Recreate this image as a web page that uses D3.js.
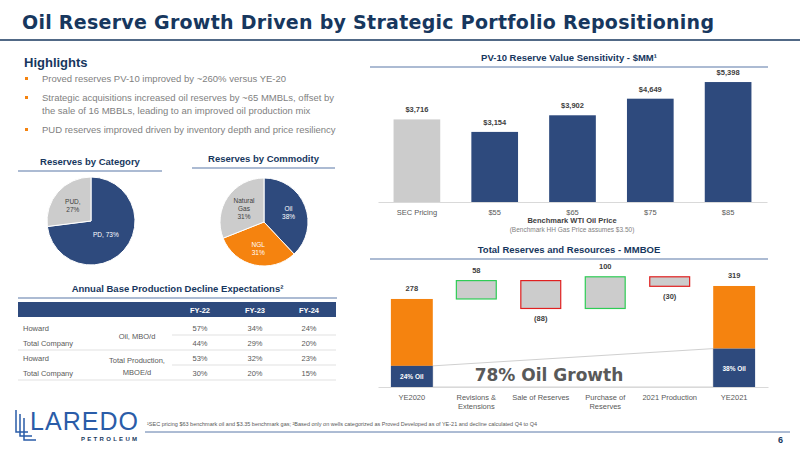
<!DOCTYPE html>
<html><head><meta charset="utf-8">
<script src="https://cdn.jsdelivr.net/npm/d3@7"></script>
<style>body{margin:0;background:#fff}svg{font-family:Arial,"Liberation Sans",sans-serif}</style>
</head><body><svg id="c" width="800" height="450"></svg>
<script>
const NAVY="#2e4a7d", ORANGE="#f5830f", GREY="#cccccc", TITLE="#17375e";
const pvCategories=["SEC Pricing","$55","$65","$75","$85"];
const pvValues=[3716,3154,3902,4649,5398];
const catLabels=["PD, 73%","PUD, 27%"];
const catValues=[73,27];
const comLabels=["Oil 38%","NGL 31%","Natural Gas 31%"];
const comValues=[38,31,31];
const wfCategories=["YE2020","Revisions & Extensions","Sale of Reserves","Purchase of Reserves","2021 Production","YE2021"];
const wfValues=[278,58,-88,100,-30,319];
const oilShare=[24,38];
const tableHeader=["FY-22","FY-23","FY-24"];
const tableRows=[["Howard","57%","34%","24%"],["Total Company","44%","29%","20%"],["Howard","53%","32%","23%"],["Total Company","30%","20%","15%"]];
const tableGroups=["Oil, MBO/d","Total Production,|MBOE/d"];
const highlights=["Proved reserves PV-10 improved by ~260% versus YE-20","Strategic acquisitions increased oil reserves by ~65 MMBLs, offset by|the sale of 16 MBBLs, leading to an improved oil production mix","PUD reserves improved driven by inventory depth and price resiliency"];

const svg=d3.select("#c");
function txt(x,y,t,o={}){const e=svg.append("text").attr("x",x).attr("y",y).text(t)
 .attr("font-size",o.s||8).attr("fill",o.c||"#595959").attr("text-anchor",o.a||"start").attr("font-weight",o.w||"normal");return e;}
function line(x1,y1,x2,y2,c,w){svg.append("line").attr("x1",x1).attr("y1",y1).attr("x2",x2).attr("y2",y2).attr("stroke",c).attr("stroke-width",w);}
txt(22,29,"Oil Reserve Growth Driven by Strategic Portfolio Repositioning",{s:19,c:TITLE,w:"bold"}).attr("font-family","DejaVu Sans").attr("textLength",692);
line(0,40,800,40,TITLE,1.5);
txt(24,67,"Highlights",{s:13,c:TITLE,w:"bold"});
let hy=82;
highlights.forEach(h=>{svg.append("rect").attr("x",25).attr("y",hy-5).attr("width",3).attr("height",3).attr("fill",ORANGE);
 h.split("|").forEach((l,i)=>txt(42,hy+i*13,l,{s:9.5,c:"#7f7f7f"}));hy+=h.split("|").length*13+6;});
function sect(x1,x2,y,t){txt((x1+x2)/2,y,t,{s:9.5,c:TITLE,w:"bold",a:"middle"});line(x1,y+6,x2,y+6,"#5a78a8",1.2);}
sect(18,162,165,"Reserves by Category");sect(192,335,162,"Reserves by Commodity");
sect(18,337,292,"Annual Base Production Decline Expectations²");
sect(370,768,61,"PV-10 Reserve Value Sensitivity - $MM¹");
sect(370,768,253,"Total Reserves and Resources - MMBOE");
function pie(cx,cy,r,vals,cols,labels,lpos,lcol){
 const arcs=d3.pie().sort(null)(vals);const g=svg.append("g").attr("transform",`translate(${cx},${cy})`);
 g.selectAll("path").data(arcs).join("path").attr("d",d3.arc().innerRadius(0).outerRadius(r)).attr("fill",(d,i)=>cols[i]).attr("stroke","#fff").attr("stroke-width",1);
 arcs.forEach((a,i)=>{const c=d3.arc().innerRadius(r*lpos[i]).outerRadius(r*lpos[i]).centroid(a);
  const parts=labels[i].split(" ");const ls=labels[i].startsWith("PD")?[labels[i]]:parts;
  ls.forEach((l,j)=>g.append("text").attr("x",c[0]).attr("y",c[1]+(j-(ls.length-1)/2)*8+3).attr("text-anchor","middle").attr("font-size",6.5).attr("fill",lcol[i]).text(l));});}
pie(91,221,44,catValues,[NAVY,GREY],catLabels,[0.45,0.55],["#fff","#404040"]);
pie(264,222,44,comValues,[NAVY,ORANGE,GREY],comLabels,[0.6,0.6,0.55],["#fff","#fff","#404040"]);
const tx=[18,102,172,228,282,336];
svg.append("rect").attr("x",18).attr("y",302).attr("width",318).attr("height",15).attr("fill",NAVY);
tableHeader.forEach((h,i)=>txt((tx[i+2]+tx[i+3])/2,313,h,{s:7.5,c:"#fff",w:"bold",a:"middle"}));
tableRows.forEach((r,i)=>{const y=331+i*15;txt(23,y,r[0],{s:7.5});
 r.slice(1).forEach((v,j)=>txt((tx[j+2]+tx[j+3])/2,y,v,{s:7.5,a:"middle"}));
 line(i%2==0?172:18,y+4,336,y+4,"#d9d9d9",0.8);});
tableGroups.forEach((g,i)=>{const ls=g.split("|");ls.forEach((l,j)=>txt(137,339+i*30+(j-(ls.length-1)/2)*12,l,{s:7.5,a:"middle"}));});
const x1=d3.scaleBand().domain(pvCategories).range([378,767]).paddingInner(0.4).paddingOuter(0.2);
const y1=d3.scaleLinear().domain([0,5400]).range([202,82]);
svg.selectAll(".pv").data(pvValues).join("rect").attr("x",(d,i)=>x1(pvCategories[i])).attr("width",x1.bandwidth())
 .attr("y",d=>y1(d)).attr("height",d=>y1(0)-y1(d)).attr("fill",(d,i)=>i==0?GREY:NAVY);
pvValues.forEach((v,i)=>txt(x1(pvCategories[i])+x1.bandwidth()/2,y1(v)-7,"$"+d3.format(",")(v),{s:7.5,c:"#404040",w:"bold",a:"middle"}));
const ax1=svg.append("g").attr("transform","translate(0,202)").call(d3.axisBottom(x1).tickSize(0).tickPadding(8));
ax1.select(".domain").attr("stroke","#d9d9d9");ax1.selectAll("text").attr("font-size",7.5).attr("fill","#595959");
txt(572,223,"Benchmark WTI Oil Price",{s:7.5,c:"#404040",w:"bold",a:"middle"});
txt(572,232,"(Benchmark HH Gas Price assumes $3.50)",{s:6.5,c:"#7f7f7f",a:"middle"});
const x2=d3.scaleBand().domain(wfCategories).range([378,768]).paddingInner(0.35).paddingOuter(0.2);
const y2=d3.scaleLinear().domain([0,300]).range([387,292]);
let run=0;const steps=wfValues.map((v,i)=>{if(i==0||i==wfValues.length-1){run=v;return{a:0,b:v,t:"total"};}
 const a=run;run+=v;return{a,b:run,t:v>0?"up":"down"};});
const bw=x2.bandwidth();
const o0=wfValues[0]*oilShare[0]/100,o1=wfValues[5]*oilShare[1]/100;
svg.append("path").attr("d",`M${x2(wfCategories[0])+bw},${y2(o0)}L${x2(wfCategories[5])},${y2(o1)}L${x2(wfCategories[5])},${y2(0)}L${x2(wfCategories[0])+bw},${y2(0)}Z`)
 .attr("fill","#fff").attr("stroke","#d0d0d0").attr("stroke-width",1);
steps.forEach((s,i)=>{const x=x2(wfCategories[i]);
 if(s.t=="total"){const oil=wfValues[i]*oilShare[i?1:0]/100;
  svg.append("rect").attr("x",x).attr("width",bw).attr("y",y2(s.b)).attr("height",y2(oil)-y2(s.b)).attr("fill",ORANGE);
  svg.append("rect").attr("x",x).attr("width",bw).attr("y",y2(oil)).attr("height",y2(0)-y2(oil)).attr("fill",NAVY);
  txt(x+bw/2,(y2(oil)+y2(0))/2+3,oilShare[i?1:0]+"% Oil",{s:6.5,c:"#fff",w:"bold",a:"middle"});
  txt(x+bw/2,y2(s.b)-8,wfValues[i],{s:7.5,c:"#404040",w:"bold",a:"middle"});}
 else{const top=Math.max(s.a,s.b),bot=Math.min(s.a,s.b);
  svg.append("rect").attr("x",x+1).attr("width",bw-2).attr("y",y2(top)).attr("height",y2(bot)-y2(top)).attr("fill",GREY).attr("stroke",s.t=="up"?"#2ecc55":"#e02020").attr("stroke-width",1.2);
  if(s.t=="up")txt(x+bw/2,y2(top)-8,wfValues[i],{s:7.5,c:"#404040",w:"bold",a:"middle"});
  else txt(x+bw/2,y2(bot)+13,"("+(-wfValues[i])+")",{s:7.5,c:"#404040",w:"bold",a:"middle"});}});
const ax2=svg.append("g").attr("transform","translate(0,387)").call(d3.axisBottom(x2).tickSize(0).tickPadding(8));
ax2.select(".domain").attr("stroke","#d9d9d9");
ax2.selectAll("text").attr("font-size",7.5).attr("fill","#595959").each(function(d){const t=d3.select(this);
 const m={"Revisions & Extensions":["Revisions &","Extensions"],"Purchase of Reserves":["Purchase of","Reserves"]}[d];
 if(m){t.text(null);m.forEach((l,j)=>t.append("tspan").attr("x",0).attr("dy",j?"1.1em":"0.71em").text(l));}});
txt(549,381,"78% Oil Growth",{s:17,c:"#595959",w:"bold",a:"middle"}).attr("font-family","DejaVu Sans");
txt(30,430,"LAREDO",{s:25,c:"#2a5ca8"}).attr("textLength",108);
txt(81,441,"PETROLEUM",{s:6,c:TITLE,w:"bold"}).attr("textLength",56);
[0,4,8].forEach(d=>{svg.append("path").attr("d",`M${16+d},${410+d}V${432+d}H${28+d}`).attr("fill","none").attr("stroke","#2a5ca8").attr("stroke-width",1.5);});
txt(147,426,"¹SEC pricing $63 benchmark oil and $3.35 benchmark gas; ²Based only on wells categorized as Proved Developed as of YE-21 and decline calculated Q4 to Q4",{s:5.5,c:"#595959"});
line(145,432,790,432,"#5a78a8",1);
txt(778,443,"6",{s:9,c:TITLE,w:"bold"});
</script></body></html>
